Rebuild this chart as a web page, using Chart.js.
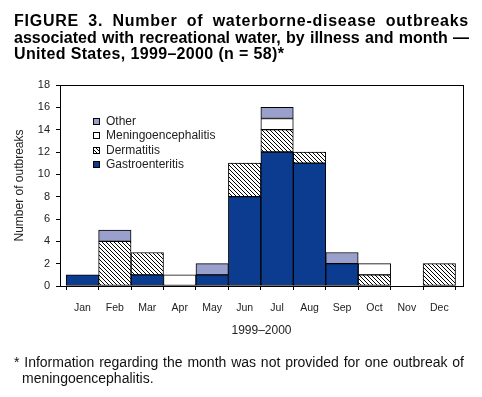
<!DOCTYPE html>
<html>
<head>
<meta charset="utf-8">
<script src="https://cdn.jsdelivr.net/npm/chart.js@4/dist/chart.umd.min.js"></script>
<style>
  html, body { margin: 0; padding: 0; background: #fff; }
  #wrap { position: relative; width: 482px; height: 397px; overflow: hidden; font-family: Arial, "Liberation Sans", Helvetica, sans-serif; }
  #c { position: absolute; left: 0; top: 0; }
  #title { position: absolute; left: 14px; top: 13px; width: 455px; font-weight: bold; font-size: 16px; line-height: 16.7px; color: #000; }
  #title .j { text-align: justify; text-align-last: justify; }
  #title .t1 { letter-spacing: 0.75px; }
  #title .t3 { letter-spacing: 0.35px; }
  #note { position: absolute; left: 14px; top: 355px; width: 450px; font-size: 14px; line-height: 15.5px; color: #111; }
  #note .l1 { text-align: justify; text-align-last: justify; }
  #note .l2 { padding-left: 8px; }
</style>
</head>
<body>
<div id="wrap">
  <canvas id="c" width="482" height="397"></canvas>
  <div id="title">
    <div class="j t1">FIGURE 3. Number of waterborne-disease outbreaks</div>
    <div class="j">associated with recreational water, by illness and month —</div>
    <div class="t3">United States, 1999–2000 (n = 58)*</div>
  </div>
  <div id="note">
    <div class="l1">* Information regarding the month was not provided for one outbreak of</div>
    <div class="l2">meningoencephalitis.</div>
  </div>
</div>
<script>
// ---- data ----
const months = ["Jan","Feb","Mar","Apr","May","Jun","Jul","Aug","Sep","Oct","Nov","Dec"];
const gastroenteritis     = [1, 0, 1, 0, 1, 8, 12, 11, 2, 0, 0, 0];
const dermatitis          = [0, 4, 2, 0, 0, 3,  2,  1, 0, 1, 0, 2];
const meningoencephalitis = [0, 0, 0, 1, 0, 0,  1,  0, 0, 1, 0, 0];
const other               = [0, 1, 0, 0, 1, 0,  1,  0, 1, 0, 0, 0];
const yTicks = [0, 2, 4, 6, 8, 10, 12, 14, 16, 18];
const xTitle = "1999–2000";
const yTitle = "Number of outbreaks";

// hatch pattern for dermatitis
function makeHatch() {
  const s = 4;
  const p = document.createElement('canvas');
  p.width = s; p.height = s;
  const g = p.getContext('2d');
  g.fillStyle = '#fff';
  g.fillRect(0, 0, s, s);
  g.strokeStyle = '#000';
  g.lineWidth = 1;
  g.beginPath();
  g.moveTo(-1, -1); g.lineTo(s + 1, s + 1);
  g.moveTo(-1, s - 1); g.lineTo(1, s + 1);
  g.moveTo(s - 1, -1); g.lineTo(s + 1, 1);
  g.stroke();
  return document.getElementById('c').getContext('2d').createPattern(p, 'repeat');
}
const hatch = makeHatch();

// month index -> point, skipping zero segments
const pts = arr => arr.map((v, i) => ({ x: i, y: v === 0 ? null : v }));

const FONT = 'Arial, "Liberation Sans", Helvetica, sans-serif';

const datasets = [
  { label: "Gastroenteritis", data: pts(gastroenteritis), backgroundColor: "#0c3c8f" },
  { label: "Dermatitis", data: pts(dermatitis), backgroundColor: hatch },
  { label: "Meningoencephalitis", data: pts(meningoencephalitis), backgroundColor: "#ffffff" },
  { label: "Other", data: pts(other), backgroundColor: "#9aa0cc" }
].map(d => Object.assign(d, {
  borderColor: "#000", borderWidth: 1, borderSkipped: false,
  barPercentage: 1.0, categoryPercentage: 1.0
}));

const framePlugin = {
  id: 'frame',
  afterDatasetsDraw(chart) {
    const { ctx, chartArea: a } = chart;
    ctx.save();
    ctx.strokeStyle = '#000';
    ctx.lineWidth = 1;
    ctx.strokeRect(Math.round(a.left) + 0.5, Math.round(a.top) + 0.5, Math.round(a.right - a.left), Math.round(a.bottom - a.top));
    // legend inside plot
    const ds = chart.data.datasets.slice().reverse();
    const x0 = a.left + 33, y0 = a.top + 36, step = 14.4;
    ctx.font = '12px ' + FONT;
    ctx.textBaseline = 'middle';
    ctx.textAlign = 'left';
    ds.forEach((d, i) => {
      const cy = Math.round(y0 + i * step);
      ctx.fillStyle = d.backgroundColor;
      ctx.fillRect(x0, cy - 3, 7, 7);
      ctx.strokeStyle = '#000';
      ctx.strokeRect(x0 + 0.5, cy - 3 + 0.5, 6, 6);
      ctx.fillStyle = '#222';
      ctx.fillText(d.label, x0 + 13, cy + 0.5);
    });
    ctx.restore();
  }
};

new Chart(document.getElementById('c'), {
  type: 'bar',
  data: { datasets },
  options: {
    responsive: false,
    animation: false,
    devicePixelRatio: 1,
    layout: { padding: { top: 85, right: 19, left: 0, bottom: 0 } },
    plugins: { legend: { display: false }, tooltip: { enabled: false }, title: { display: false } },
    scales: {
      x: {
        type: 'linear',
        stacked: true,
        offset: false,
        min: -0.69,
        max: 11.73,
        afterBuildTicks(s) { s.ticks = months.map((m, i) => ({ value: i })); },
        grid: { display: true, drawOnChartArea: false, tickLength: 4, color: '#000', lineWidth: 1 },
        border: { display: true, color: '#000', width: 1 },
        ticks: { color: '#222', font: { size: 10.5, family: FONT }, padding: 12, maxRotation: 0, autoSkip: false,
                 callback: v => months[v] },
        title: { display: true, text: xTitle, color: '#222', font: { size: 12, family: FONT }, padding: { top: 0, bottom: 59 } },
        afterFit(s) { s.height = 111; }
      },
      y: {
        stacked: true,
        min: 0, max: 18,
        afterBuildTicks(s) { s.ticks = yTicks.map(v => ({ value: v })); },
        grid: { display: true, drawOnChartArea: false, tickLength: 4, color: '#000', lineWidth: 1 },
        border: { display: true, color: '#000', width: 1 },
        ticks: { color: '#222', font: { size: 11, family: FONT }, padding: 6 },
        title: { display: true, text: yTitle, color: '#222', font: { size: 12, family: FONT }, padding: { top: 12, bottom: 0 } },
        afterFit(s) { s.width = 60; }
      }
    }
  },
  plugins: [framePlugin]
});
</script>
</body>
</html>
